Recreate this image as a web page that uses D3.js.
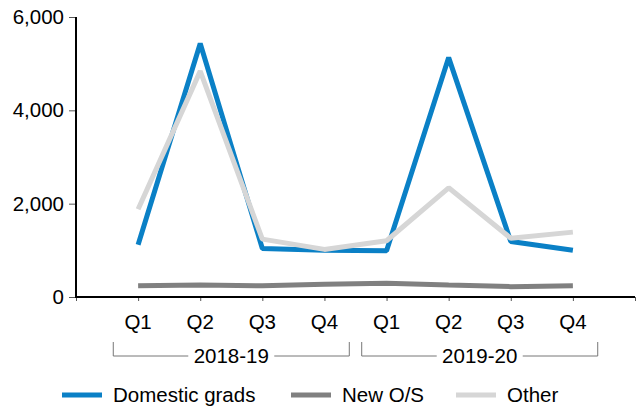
<!DOCTYPE html>
<html>
<head>
<meta charset="utf-8">
<script src="https://cdn.jsdelivr.net/npm/d3@7"></script>
<style>
  body { margin: 0; background: #fff; }
  text { font-family: "Liberation Sans", Arial, sans-serif; fill: #000; }
</style>
</head>
<body>
<svg></svg>
<script>
var quarters = ["Q1", "Q2", "Q3", "Q4", "Q1", "Q2", "Q3", "Q4"];
var years = ["2018-19", "2019-20"];
var yTicks = [0, 2000, 4000, 6000];

var domestic = [1120, 5430, 1040, 1000, 990, 5130, 1190, 1000];
var newOS = [240, 257, 240, 275, 293, 257, 222, 243];
var other = [1880, 4840, 1240, 1020, 1205, 2340, 1260, 1390];

var seriesNames = ["Domestic grads", "New O/S", "Other"];
var seriesColors = ["#0a80c6", "#808080", "#d6d6d6"];
var series = [domestic, newOS, other];

var width = 640, height = 409;
var fs = 20.5;

var svg = d3.select("svg")
  .attr("width", width)
  .attr("height", height);

// slots 0..9, data sits at 1..8
var x = d3.scaleLinear()
  .domain([0, quarters.length + 1])
  .range([76, 635]);

var y = d3.scaleLinear()
  .domain([0, 6000])
  .range([297, 17]);

// y axis
var yAxis = svg.append("g")
  .attr("transform", "translate(76,0)")
  .call(d3.axisLeft(y).tickValues(yTicks).tickSize(7).tickPadding(5).tickFormat(d3.format(",")));
yAxis.select(".domain").remove();
yAxis.selectAll(".tick line").attr("stroke", "#555");
yAxis.selectAll("text").attr("font-size", fs).attr("font-family", "Liberation Sans, Arial, sans-serif");

// x axis ticks
var xAxis = svg.append("g")
  .attr("transform", "translate(0,297)")
  .call(d3.axisBottom(x).ticks(quarters.length + 1).tickSize(4).tickFormat(""));
xAxis.select(".domain").remove();
xAxis.selectAll(".tick line").attr("stroke", "#555");

svg.append("line")
  .attr("x1", 76).attr("x2", 76)
  .attr("y1", y(6000)).attr("y2", y(0) + 1)
  .attr("stroke", "#000").attr("stroke-width", 2);
svg.append("line")
  .attr("x1", 75).attr("x2", 635)
  .attr("y1", y(0)).attr("y2", y(0))
  .attr("stroke", "#000").attr("stroke-width", 2);

// quarter labels
svg.append("g").selectAll("text")
  .data(quarters)
  .enter().append("text")
  .attr("x", (d, i) => x(i + 1))
  .attr("y", 329)
  .attr("text-anchor", "middle")
  .attr("font-size", fs)
  .text(d => d);

// year brackets
var yearG = svg.append("g").selectAll("g")
  .data(years)
  .enter().append("g");

yearG.append("path")
  .attr("d", (d, i) => {
    var x0 = x(i * 4 + 1 - 0.4), x1 = x(i * 4 + 4 + 0.4), xm = x(i * 4 + 2.5);
    return "M" + x0 + ",342V356H" + (xm - 43) + "M" + (xm + 43) + ",356H" + x1 + "V342";
  })
  .attr("fill", "none")
  .attr("stroke", "#777")
  .attr("stroke-width", 1);

yearG.append("text")
  .attr("x", (d, i) => x(i * 4 + 2.5))
  .attr("y", 363)
  .attr("text-anchor", "middle")
  .attr("font-size", fs)
  .text(d => d);

// lines
var line = d3.line()
  .x((d, i) => x(i + 1))
  .y(d => y(d));

svg.append("g").selectAll("path")
  .data(series)
  .enter().append("path")
  .attr("d", line)
  .attr("fill", "none")
  .attr("stroke", (d, i) => seriesColors[i])
  .attr("stroke-width", 5)
  .attr("stroke-linejoin", "bevel");

// legend
var legendX = [62, 291, 456];
var legend = svg.append("g").selectAll("g")
  .data(seriesNames)
  .enter().append("g")
  .attr("transform", (d, i) => "translate(" + legendX[i] + ",395)");

legend.append("line")
  .attr("x1", 0).attr("x2", 40)
  .attr("stroke", (d, i) => seriesColors[i])
  .attr("stroke-width", 5);

legend.append("text")
  .attr("x", 51)
  .attr("y", 7)
  .attr("font-size", fs)
  .text(d => d);
</script>
</body>
</html>
